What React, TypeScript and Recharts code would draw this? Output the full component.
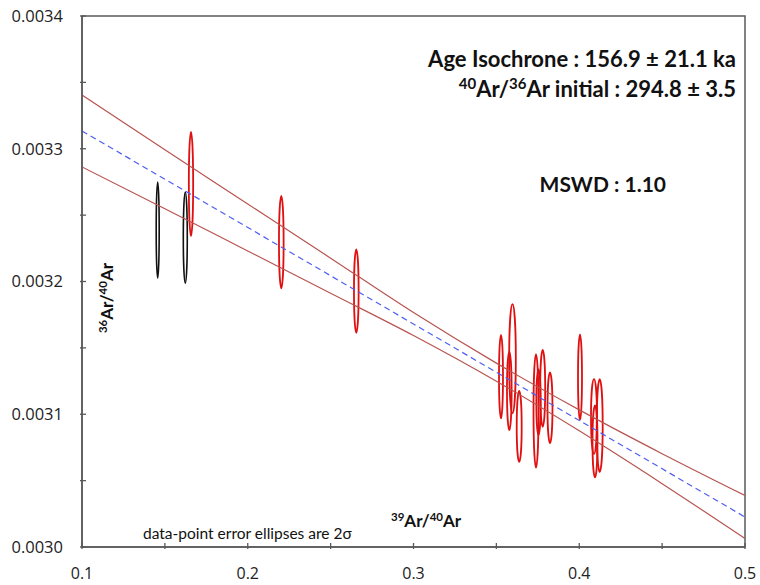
import React from "react";
import { ComposedChart, Line, XAxis, YAxis, ReferenceArea } from "recharts";

// excluded steps (black ellipses)
const excludedX = [0.14567, 0.16232];
const excludedY = [0.0032388, 0.0032331];
const excludedSX = [0.0009, 0.0012];
const excludedSY = [0.0000362, 0.0000343];

// steps used in the isochron (red ellipses)
const usedX = [0.16576, 0.22024, 0.26549, 0.35279, 0.35973, 0.3578, 0.36377, 0.37391, 0.37541, 0.37795, 0.38235, 0.40045, 0.4089, 0.41234, 0.4095];
const usedY = [0.0032734, 0.0032296, 0.0031928, 0.0031283, 0.0031418, 0.0031176, 0.0030908, 0.0031025, 0.0031091, 0.0031195, 0.0031049, 0.0031279, 0.0030983, 0.0030915, 0.0030795];
const usedSX = [0.0013, 0.0014, 0.0014, 0.0012, 0.002, 0.0014, 0.0015, 0.0015, 0.0013, 0.0015, 0.0015, 0.0012, 0.0018, 0.0018, 0.0015];
const usedSY = [0.0000392, 0.0000348, 0.0000314, 0.0000314, 0.0000411, 0.0000295, 0.0000267, 0.0000427, 0.0000247, 0.0000289, 0.0000267, 0.0000322, 0.0000282, 0.000035, 0.0000271];

// isochron line and its error envelope
const fitX = [0.1, 0.5];
const fitY = [0.0033134, 0.0030226];
const envX = [0.1, 0.15, 0.2, 0.25, 0.3, 0.35, 0.4, 0.45, 0.5];
const envUpper = [0.0033405, 0.0032992, 0.0032584, 0.0032176, 0.0031766, 0.0031385, 0.0031033, 0.0030703, 0.0030388];
const envLower = [0.0032863, 0.0032548, 0.003223, 0.0031912, 0.0031593, 0.0031249, 0.0030875, 0.0030477, 0.0030064];

const xTicks = [0.1, 0.15, 0.2, 0.25, 0.3, 0.35, 0.4, 0.45, 0.5];
const yTicks = [0.003, 0.00305, 0.0031, 0.00315, 0.0032, 0.00325, 0.0033, 0.00335, 0.0034];

const fitData = fitX.map((x, i) => ({ x, y: fitY[i] }));
const upperData = envX.map((x, i) => ({ x, y: envUpper[i] }));
const lowerData = envX.map((x, i) => ({ x, y: envLower[i] }));

const tickFont = "'Open Sans', sans-serif";
const labelFont = "Lato, 'Open Sans', sans-serif";
const axisColor = "#595959";

const XTick = (props: any) => {
    const { x, y, index, payload } = props;
    return (
        <g>
            <line x1={x} y1={y} x2={x} y2={y - 6} stroke={axisColor} strokeWidth={1.3} />
            {index % 2 === 0 && (
                <text x={x} y={y + 24.5} dy="0.35em" textAnchor="middle" fontFamily={tickFont} fontSize={16} fill="#222">
                    {payload.value.toFixed(1)}
                </text>
            )}
        </g>
    );
};

const YTick = (props: any) => {
    const { x, y, index, payload } = props;
    return (
        <g>
            <line x1={x} y1={y} x2={x + 6} y2={y} stroke={axisColor} strokeWidth={1.3} />
            {index % 2 === 0 && (
                <text x={x - 17} y={y} dy="0.35em" textAnchor="end" fontFamily={tickFont} fontSize={16.5} fill="#222">
                    {payload.value.toFixed(4)}
                </text>
            )}
        </g>
    );
};

const ellipseShape = (color: string, width: number) => (p: any) => (
    <ellipse
        cx={p.x + p.width / 2}
        cy={p.y + p.height / 2}
        rx={Math.max(p.width / 2, 0.5)}
        ry={p.height / 2}
        fill="none"
        stroke={color}
        strokeWidth={width}
    />
);

export default function App() {
    return (
        <div style={{ position: "absolute", left: 0, top: 0, width: 760, height: 585, background: "#fff" }}>
            <ComposedChart width={760} height={585} margin={{ top: 16, right: 15, bottom: 0, left: 0 }}>
                <XAxis
                    type="number"
                    dataKey="x"
                    domain={[0.1, 0.5]}
                    ticks={xTicks}
                    interval={0}
                    allowDataOverflow
                    height={38}
                    tickSize={0}
                    tickLine={false}
                    tick={<XTick />}
                    stroke={axisColor}
                    strokeWidth={1.5}
                />
                <YAxis
                    type="number"
                    dataKey="y"
                    domain={[0.003, 0.0034]}
                    ticks={yTicks}
                    interval={0}
                    allowDataOverflow
                    width={82}
                    tickSize={0}
                    tickLine={false}
                    tick={<YTick />}
                    stroke={axisColor}
                    strokeWidth={1.5}
                />
                <ReferenceArea x1={0.1} x2={0.5} y1={0.003} y2={0.0034} fill="none" stroke={axisColor} strokeWidth={1.5} ifOverflow="visible" />

                <Line data={upperData} dataKey="y" type="monotone" stroke="#b85450" strokeWidth={1.2} dot={false} isAnimationActive={false} />
                <Line data={lowerData} dataKey="y" type="monotone" stroke="#b85450" strokeWidth={1.2} dot={false} isAnimationActive={false} />
                <Line data={fitData} dataKey="y" type="linear" stroke="#4f5ff0" strokeWidth={1.2} strokeDasharray="6 4" dot={false} isAnimationActive={false} />

                {excludedX.map((x, i) => (
                    <ReferenceArea
                        key={"b" + i}
                        x1={x - excludedSX[i]}
                        x2={x + excludedSX[i]}
                        y1={excludedY[i] - excludedSY[i]}
                        y2={excludedY[i] + excludedSY[i]}
                        shape={ellipseShape("#111", 1.6)}
                    />
                ))}
                {usedX.map((x, i) => (
                    <ReferenceArea
                        key={"r" + i}
                        x1={x - usedSX[i]}
                        x2={x + usedSX[i]}
                        y1={usedY[i] - usedSY[i]}
                        y2={usedY[i] + usedSY[i]}
                        shape={ellipseShape("#e01010", 1.8)}
                    />
                ))}
            </ComposedChart>

            {/* annotations */}
            <svg width={760} height={585} style={{ position: "absolute", left: 0, top: 0, pointerEvents: "none" }}>
                <g fontFamily={labelFont} fontWeight="bold" fill="#111">
                    <text x={736} y={67} textAnchor="end" fontSize={22}>
                        Age Isochrone : 156.9 ± 21.1 ka
                    </text>
                    <text x={736} y={96.5} textAnchor="end" fontSize={22}>
                        <tspan fontSize={15} dy={-8}>40</tspan>
                        <tspan dy={8}>Ar/</tspan>
                        <tspan fontSize={15} dy={-8}>36</tspan>
                        <tspan dy={8}>Ar initial : 294.8 ± 3.5</tspan>
                    </text>
                    <text x={666} y={191.5} textAnchor="end" fontSize={21}>
                        MSWD : 1.10
                    </text>
                    <text x={391} y={527} fontSize={17}>
                        <tspan fontSize={11.5} dy={-6}>39</tspan>
                        <tspan dy={6}>Ar/</tspan>
                        <tspan fontSize={11.5} dy={-6}>40</tspan>
                        <tspan dy={6}>Ar</tspan>
                    </text>
                    <text x={113} y={298} textAnchor="middle" fontSize={17} transform="rotate(-90 113 298)">
                        <tspan fontSize={11.5} dy={-6}>36</tspan>
                        <tspan dy={6}>Ar/</tspan>
                        <tspan fontSize={11.5} dy={-6}>40</tspan>
                        <tspan dy={6}>Ar</tspan>
                    </text>
                </g>
                <text x={143} y={539} fontFamily={labelFont} fontSize={15.5} fill="#111">
                    data-point error ellipses are 2σ
                </text>
            </svg>
        </div>
    );
}
